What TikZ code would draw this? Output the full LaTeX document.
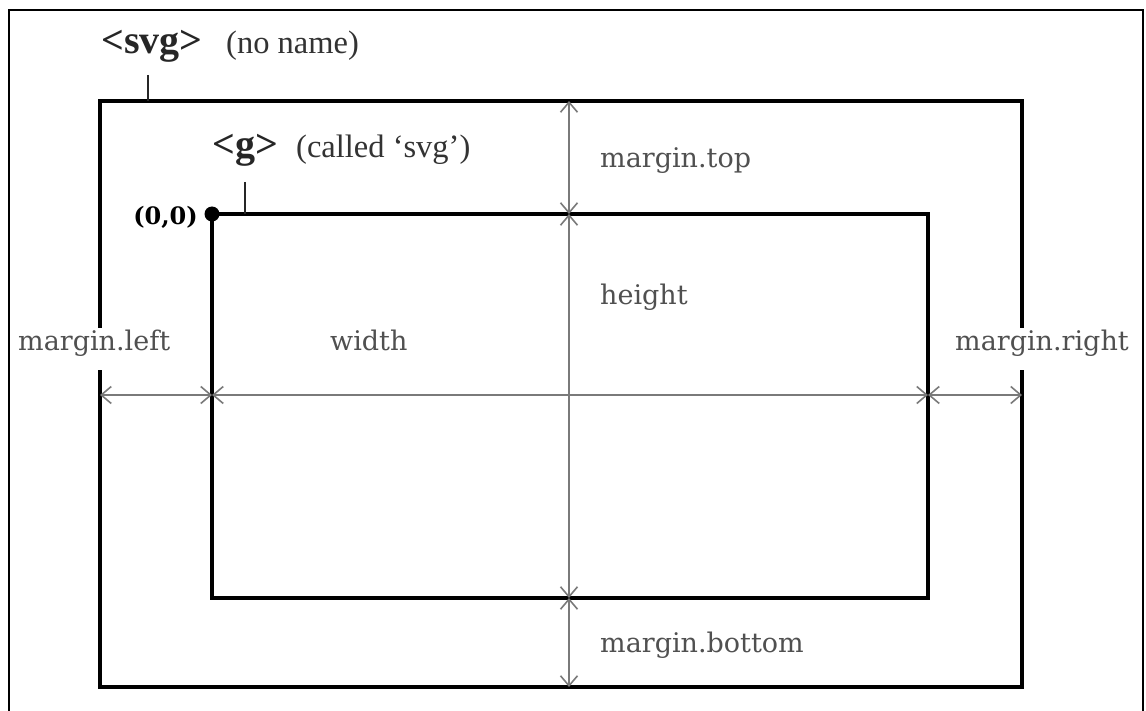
\documentclass[tikz,border=0pt]{standalone}
\usepackage{fontspec}
\setmainfont{DejaVu Serif}
\newfontfamily\notefont{Liberation Serif}
\usetikzlibrary{arrows.meta}
\definecolor{dimgray}{HTML}{7A7A7A}
\definecolor{labelgray}{HTML}{505050}
\tikzset{
  frame/.style={draw=black, line width=2pt},
  box/.style={draw=black, line width=3.5pt, line join=miter},
  tick/.style={draw=black!85, line width=1.5pt},
  dim/.style={draw=dimgray, line width=1.6pt,
    {Straight Barb[length=10pt,width=17pt,line width=1.6pt]}-{Straight Barb[length=10pt,width=17pt,line width=1.6pt]}},
  lbl/.style={text=labelgray, font=\fontsize{27}{27}\selectfont, inner sep=0pt, anchor=base west},
  tag/.style={text=black!85, font=\notefont\fontsize{40}{40}\selectfont\bfseries, inner sep=0pt, anchor=base west},
  note/.style={text=black!80, font=\notefont\fontsize{32.5}{32.5}\selectfont, inner sep=0pt, anchor=base west},
}
\begin{document}
\begin{tikzpicture}[x=1pt,y=-1pt]
\useasboundingbox (0,0) rectangle (1146,711);
% page frame (open at the bottom)
\draw[frame] (9,720) -- (9,10) -- (1143,10) -- (1143,720);

% corners of the two rectangles
\coordinate (oTL) at (100,101);
\coordinate (oTR) at (1022,101);
\coordinate (oBL) at (100,687);
\coordinate (oBR) at (1022,687);
\coordinate (iTL) at (212,214);
\coordinate (iTR) at (928,214);
\coordinate (iBL) at (212,598);
\coordinate (iBR) at (928,598);

% outer <svg> rectangle, sides broken for the margin labels
\draw[box] (100,328) -- (oTL) -- (oTR) -- (1022,328);
\draw[box] (100,370) -- (oBL) -- (oBR) -- (1022,370);
% inner <g> rectangle
\draw[box] (iTL) -- (iTR) -- (iBR) -- (iBL) -- cycle;
\fill (iTL) circle (7.5pt);

% dimension points
\coordinate (vT) at (569,101);
\coordinate (vM1) at (569,214);
\coordinate (vM2) at (569,598);
\coordinate (vB) at (569,687);
\coordinate (hL) at (100,395);
\coordinate (hM1) at (212,395);
\coordinate (hM2) at (928,395);
\coordinate (hR) at (1022,395);

\draw[dim] (vT) -- (vM1);
\draw[dim] (vM1) -- (vM2);
\draw[dim] (vM2) -- (vB);
\draw[dim] (hL) -- (hM1);
\draw[dim] (hM1) -- (hM2);
\draw[dim] (hM2) -- (hR);

% element tags
\node[tag] (svgtag) at (101,54) {<svg>};
\node[note] (svgnote) at (226,54) {(no name)};
\coordinate (svgtick) at (148,75);
\draw[tick] (svgtick) -- (148,101);

\node[tag] (gtag) at (212,158) {<g>};
\node[note] (gnote) at (296,158) {(called ‘svg’)};
\coordinate (gtick) at (245,182);
\draw[tick] (gtick) -- (245,214);

\node[text=black, font=\fontsize{24}{24}\selectfont\bfseries, inner sep=0pt, anchor=base east] (origin) at (198,225) {(0,0)};

% dimension labels
\node[lbl] (mtop) at (600,168) {margin.top};
\node[lbl] (hgt) at (600,305) {height};
\node[lbl] (wid) at (330,351) {width};
\node[lbl] (mbot) at (600,652) {margin.bottom};
\node[lbl] (mleft) at (18,351) {margin.left};
\node[lbl] (mright) at (955,351) {margin.right};
\end{tikzpicture}
\end{document}
